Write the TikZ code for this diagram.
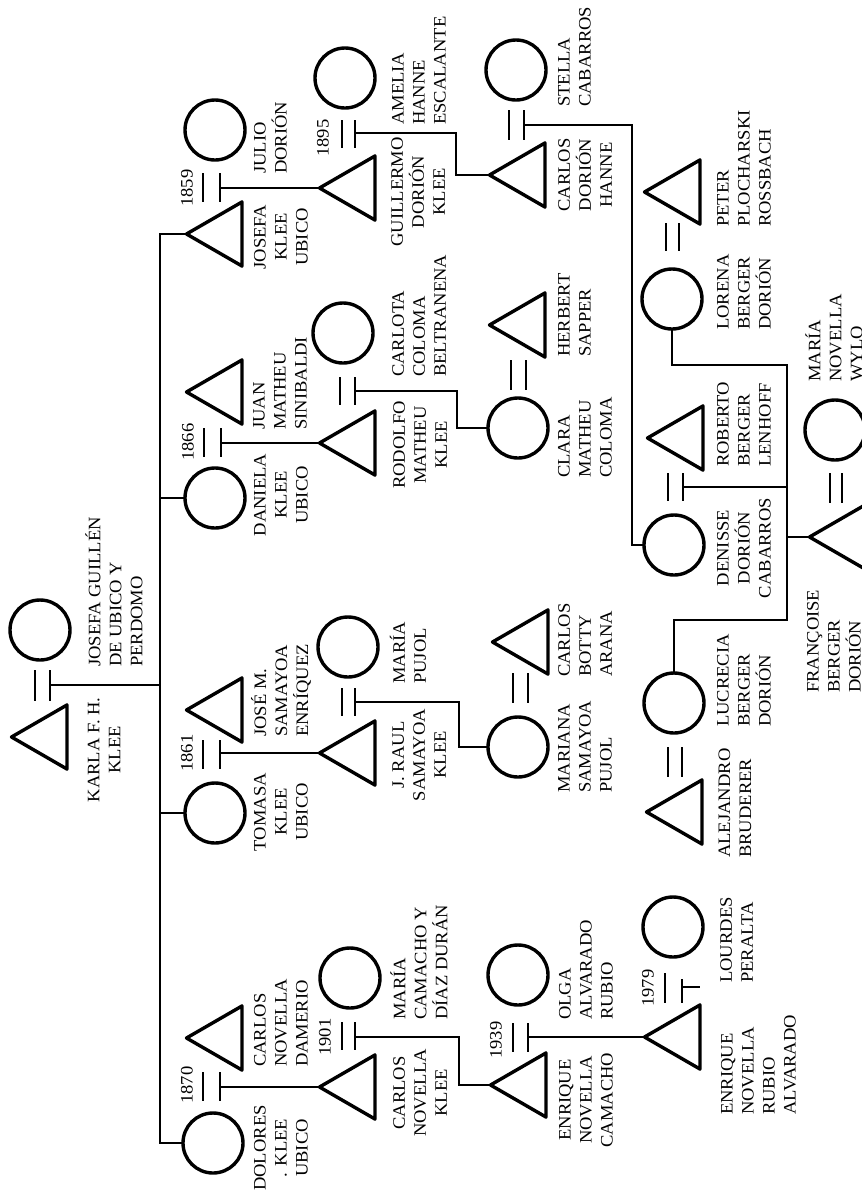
\documentclass[tikz,border=0pt]{standalone}
\usepackage{fontspec}
\setmainfont[FakeStretch=1.06]{Liberation Serif}
\usetikzlibrary{shapes.geometric}
\newcommand{\namefont}{\fontsize{17.5}{21}\selectfont}

\begin{document}
\begin{tikzpicture}[x=1pt,y=-1pt,
  male/.style={draw, regular polygon, regular polygon sides=3, rotate=90,
    minimum size=74pt, inner sep=0pt, outer sep=0pt, line width=3.4pt, line join=round},
  female/.style={draw, circle, minimum size=60pt, inner sep=0pt, outer sep=0pt, line width=3.4pt},
  line/.style={line width=1.6pt},
  bar/.style={line width=2.4pt},
  nametext/.style={rotate=90, inner sep=0pt, font=\namefont},
  lname/.style={nametext, align=left, anchor=west},
  cname/.style={nametext, align=center},
  year/.style={rotate=90, inner sep=0pt, font=\namefont}]
  \useasboundingbox (0,0) rectangle (862,1195);
  \clip (0,0) rectangle (862,1195);

  % first couple
  \node[male] (karla) at (48.5,737) {};
  \node[female] (josefag) at (40,630) {};
  \draw[bar] (35,670) -- (35,701) (50,670) -- (50,701);
  \coordinate (m0) at (50,685);
  \coordinate (kids) at (160,685);
  \node[cname] (lkarla) at (104,750) {KARLA F. H.\\KLEE};
  \node[lname] (ljosefag) at (114,667) {JOSEFA GUILLÉN\\DE UBICO Y\\PERDOMO};

  % children
  \node[male] (josefa) at (223.5,234) {};
  \node[female] (daniela) at (215,498) {};
  \node[female] (tomasa) at (215,813) {};
  \node[female] (dolores) at (213,1143) {};
  \draw[line] (m0) -- (kids);
  \draw[line] (josefa.corner 1) -| (kids) |- (dolores.west);
  \draw[line] (daniela.west) -- (daniela.west -| kids);
  \draw[line] (tomasa.west) -- (tomasa.west -| kids);
  \node[cname] (ljosefa) at (281,237) {JOSEFA\\KLEE\\UBICO};
  \node[cname] (ldaniela) at (281,495) {DANIELA\\KLEE\\UBICO};
  \node[cname] (ltomasa) at (281,812) {TOMASA\\KLEE\\UBICO};
  \node[cname] (ldolores) at (281,1148) {DOLORES\\. KLEE\\UBICO};

  % their spouses
  \node[female] (julio) at (215,130) {};
  \node[male] (juan) at (223.5,392) {};
  \node[male] (jose) at (223.5,710) {};
  \node[male] (carlosd) at (223.5,1038) {};
  \node[lname] (ljulio) at (270.5,174) {JULIO\\DORIÓN};
  \node[lname] (ljuan) at (280,430) {JUAN\\MATHEU\\SINIBALDI};
  \node[lname] (ljose) at (281,737) {JOSÉ M.\\SAMAYOA\\ENRÍQUEZ};
  \node[lname] (lcarlosd) at (281,1067) {CARLOS\\NOVELLA\\DAMERIO};

  \draw[bar] (203,173) -- (203,202) (220,173) -- (220,202);
  \draw[bar] (204,428) -- (204,457) (221,428) -- (221,457);
  \draw[bar] (203,740) -- (203,769) (220,740) -- (220,769);
  \draw[bar] (203,1072) -- (203,1101) (220,1072) -- (220,1101);
  \coordinate (m1859) at (220,188);
  \coordinate (m1866) at (221,443);
  \coordinate (m1861) at (220,753);
  \coordinate (m1870) at (220,1087);
  \node[year] (y1859) at (187,188) {1859};
  \node[year] (y1866) at (188,442) {1866};
  \node[year] (y1861) at (187,753) {1861};
  \node[year] (y1870) at (187,1085) {1870};

  % grandchildren
  \node[male] (guillermo) at (356.5,188) {};
  \node[male] (rodolfo) at (356.5,443) {};
  \node[male] (raul) at (356.5,753) {};
  \node[male] (carlosn) at (356.5,1087) {};
  \draw[line] (m1859) -- (guillermo.corner 1);
  \draw[line] (m1866) -- (rodolfo.corner 1);
  \draw[line] (m1861) -- (raul.corner 1);
  \draw[line] (m1870) -- (carlosn.corner 1);
  \node[cname] (lguillermo) at (418,192) {GUILLERMO\\DORIÓN\\KLEE};
  \node[cname] (lrodolfo) at (420,445) {RODOLFO\\MATHEU\\KLEE};
  \node[cname] (lraul) at (419,755) {J. RAUL\\SAMAYOA\\KLEE};
  \node[cname] (lcarlosn) at (420,1093) {CARLOS\\NOVELLA\\KLEE};

  \node[female] (amelia) at (345,78) {};
  \node[female] (carlota) at (343,333) {};
  \node[female] (mariap) at (348,647) {};
  \node[female] (mariac) at (350,978) {};
  \node[lname] (lamelia) at (419,125) {AMELIA\\HANNE\\ESCALANTE};
  \node[lname] (lcarlota) at (419,377) {CARLOTA\\COLOMA\\BELTRANENA};
  \node[lname] (lmariap) at (408,684) {MARÍA\\PUJOL};
  \node[lname] (lmariac) at (419,1020) {MARÍA\\CAMACHO Y\\DÍAZ DURÁN};

  \draw[bar] (342,120) -- (342,148) (355,120) -- (355,148);
  \draw[bar] (340,377) -- (340,405) (355,377) -- (355,405);
  \draw[bar] (342,688) -- (342,716) (355,688) -- (355,716);
  \draw[bar] (342,1022) -- (342,1050) (355,1022) -- (355,1050);
  \coordinate (m1895) at (355,133);
  \coordinate (mrodolfo) at (355,391);
  \coordinate (mraul) at (355,702);
  \coordinate (m1901) at (355,1037);
  \node[year] (y1895) at (323,138) {1895};
  \node[year] (y1901) at (325,1037) {1901};

  % great-grandchildren
  \node[male] (carlosh) at (526.5,175) {};
  \node[female] (clara) at (518,428) {};
  \node[female] (mariana) at (518,747) {};
  \node[male] (enriquec) at (527.5,1085) {};
  \draw[line] (m1895) -- ++(101,0) |- (carlosh.corner 1);
  \draw[line] (mrodolfo) -- ++(102,0) |- (clara.west);
  \draw[line] (mraul) -- ++(104,0) |- (mariana.west);
  \draw[line] (m1901) -- ++(104,0) |- (enriquec.corner 1);
  \node[cname] (lcarlosh) at (585,175) {CARLOS\\DORIÓN\\HANNE};
  \node[lname] (lclara) at (585,478) {CLARA\\MATHEU\\COLOMA};
  \node[lname] (lmariana) at (585,793) {MARIANA\\SAMAYOA\\PUJOL};
  \node[cname] (lenriquec) at (586,1100) {ENRIQUE\\NOVELLA\\CAMACHO};

  \node[female] (stella) at (516,70) {};
  \node[male] (herbert) at (526.5,325) {};
  \node[male] (carlosb) at (529.5,642) {};
  \node[female] (olga) at (518,975) {};
  \node[lname] (lstella) at (574.5,107) {STELLA\\CABARROS};
  \node[lname] (lherbert) at (574.5,357) {HERBERT\\SAPPER};
  \node[lname] (lcarlosb) at (585,677) {CARLOS\\BOTTY\\ARANA};
  \node[lname] (lolga) at (586,1020) {OLGA\\ALVARADO\\RUBIO};

  \draw[bar] (509,110) -- (509,140) (524,110) -- (524,140);
  \draw[bar] (511,360) -- (511,390) (526,360) -- (526,390);
  \draw[bar] (513,673) -- (513,703) (528,673) -- (528,703);
  \draw[bar] (513,1023) -- (513,1052) (528,1023) -- (528,1052);
  \coordinate (mcarlosh) at (524,125);
  \coordinate (m1939) at (528,1037);
  \node[year] (y1939) at (496,1040) {1939};

  % next generation
  \node[female] (denisse) at (674,545) {};
  \node[male] (enriquer) at (681.5,1037) {};
  \draw[line] (mcarlosh) -- ++(108,0) |- (denisse.west);
  \draw[line] (m1939) -- (enriquer.corner 1);
  \node[cname] (ldenisse) at (744,548) {DENISSE\\DORIÓN\\CABARROS};
  \node[lname] (lenriquer) at (758.5,1115) {ENRIQUE\\NOVELLA\\RUBIO\\ALVARADO};

  \node[male] (roberto) at (684.5,438) {};
  \node[female] (lourdes) at (673,927) {};
  \node[lname] (lroberto) at (744,467) {ROBERTO\\BERGER\\LENHOFF};
  \node[lname] (llourdes) at (736.5,983) {LOURDES\\PERALTA};

  \draw[bar] (668,473) -- (668,501) (683,473) -- (683,501);
  \draw[bar] (665,973) -- (665,1003) (682,979) -- (682,1003);
  \coordinate (mdenisse) at (683,487);
  \coordinate (m1979) at (682,987);
  \draw[line] (m1979) -- ++(18,0);
  \node[year] (y1979) at (648,988) {1979};

  % last generation
  \coordinate (sibtop) at (787,365);
  \coordinate (sibbot) at (787,620);
  \node[female] (lorena) at (672,299) {};
  \node[male] (francoise) at (846.5,537) {};
  \node[female] (lucrecia) at (674,703) {};
  \draw[line] (lorena.south) |- (sibtop) -- (sibbot) -| (lucrecia.north);
  \draw[line] (mdenisse) -- (mdenisse -| sibtop);
  \draw[line] (francoise.corner 1) -- (francoise.corner 1 -| sibtop);
  \node[lname] (llorena) at (744,330) {LORENA\\BERGER\\DORIÓN};
  \node[lname] (lfrancoise) at (834,693) {FRANÇOISE\\BERGER\\DORIÓN};
  \node[lname] (llucrecia) at (744,727) {LUCRECIA\\BERGER\\DORIÓN};

  \node[male] (peter) at (681.5,192) {};
  \node[female] (mariaw) at (835,430) {};
  \node[male] (alejandro) at (683.5,812) {};
  \node[lname] (lpeter) at (744,227) {PETER\\PLOCHARSKI\\ROSSBACH};
  \node[lname] (lmariaw) at (834,382) {MARÍA\\NOVELLA\\WYLO};
  \node[lname] (lalejandro) at (735,858) {ALEJANDRO\\BRUDERER};

  \draw[bar] (666,223) -- (666,251) (679,223) -- (679,251);
  \draw[bar] (830,473) -- (830,503) (842,473) -- (842,503);
  \draw[bar] (668,747) -- (668,777) (682,747) -- (682,777);
\end{tikzpicture}
\end{document}
